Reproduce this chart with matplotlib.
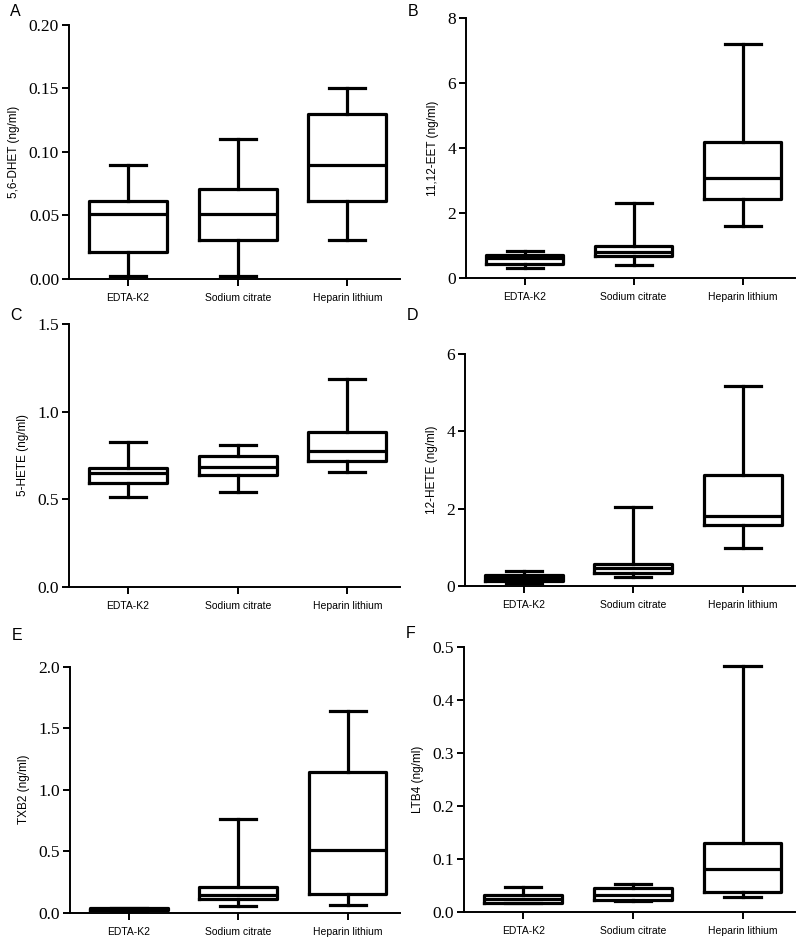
import matplotlib
matplotlib.use("Agg")
import matplotlib.pyplot as plt

groups = ["EDTA-K2", "Sodium citrate", "Heparin lithium"]

# whisker low, Q1, median, Q3, whisker high for each group
dhet56 = [[0.002, 0.021, 0.051, 0.061, 0.090],
          [0.002, 0.031, 0.051, 0.071, 0.110],
          [0.031, 0.061, 0.090, 0.130, 0.150]]
eet1112 = [[0.30, 0.42, 0.60, 0.72, 0.82],
           [0.39, 0.67, 0.80, 0.97, 2.30],
           [1.59, 2.44, 3.08, 4.17, 7.20]]
hete5 = [[0.514, 0.590, 0.647, 0.681, 0.828],
         [0.541, 0.638, 0.685, 0.746, 0.809],
         [0.657, 0.718, 0.777, 0.881, 1.184]]
hete12 = [[0.08, 0.13, 0.20, 0.28, 0.38],
          [0.22, 0.33, 0.47, 0.56, 2.04],
          [0.99, 1.58, 1.80, 2.87, 5.18]]
txb2 = [[0.015, 0.020, 0.030, 0.035, 0.040],
        [0.054, 0.108, 0.145, 0.209, 0.759],
        [0.060, 0.154, 0.507, 1.146, 1.640]]
ltb4 = [[0.016, 0.017, 0.024, 0.031, 0.047],
        [0.020, 0.022, 0.032, 0.044, 0.052],
        [0.027, 0.038, 0.080, 0.130, 0.464]]

panels = [
    ("A", "5,6-DHET (ng/ml)", dhet56, (0, 0.20), [0, 0.05, 0.10, 0.15, 0.20], "{:.2f}",
     [0.086, 0.703, 0.414, 0.2705]),
    ("B", "11,12-EET (ng/ml)", eet1112, (0, 8), [0, 2, 4, 6, 8], "{:.0f}",
     [0.5825, 0.704, 0.411, 0.277]),
    ("C", "5-HETE (ng/ml)", hete5, (0, 1.5), [0, 0.5, 1.0, 1.5], "{:.1f}",
     [0.086, 0.375, 0.414, 0.280]),
    ("D", "12-HETE (ng/ml)", hete12, (0, 6), [0, 2, 4, 6], "{:.0f}",
     [0.581, 0.376, 0.413, 0.247]),
    ("E", "TXB2 (ng/ml)", txb2, (0, 2.0), [0, 0.5, 1.0, 1.5, 2.0], "{:.1f}",
     [0.0875, 0.028, 0.4125, 0.262]),
    ("F", "LTB4 (ng/ml)", ltb4, (0, 0.5), [0, 0.1, 0.2, 0.3, 0.4, 0.5], "{:.1f}",
     [0.580, 0.029, 0.414, 0.282]),
]

# y position (px from top) of each panel letter
letter_y = {"A": 12, "B": 12, "C": 315, "D": 315, "E": 636, "F": 634}

fig = plt.figure(figsize=(8, 9.39), dpi=100)

lw = 2.3
for letter, ylab, data, ylim, yticks, fmt, rect in panels:
    ax = fig.add_axes(rect)
    stats = []
    for g, (lo, q1, med, q3, hi) in zip(groups, data):
        stats.append({"label": g, "whislo": lo, "q1": q1, "med": med,
                      "q3": q3, "whishi": hi, "fliers": []})
    ax.bxp(stats, positions=[1, 2, 3], widths=0.71, showfliers=False,
           boxprops=dict(color="black", linewidth=lw),
           medianprops=dict(color="black", linewidth=lw),
           whiskerprops=dict(color="black", linewidth=lw),
           capprops=dict(color="black", linewidth=lw),
           capwidths=0.33)
    ax.set_xlim(0.46, 3.48)
    ax.set_ylim(*ylim)
    ax.set_yticks(yticks)
    ax.set_yticklabels([fmt.format(v) for v in yticks],
                       family="Liberation Serif", fontsize=12.5)
    ax.set_xticks([1, 2, 3])
    ax.set_xticklabels(groups, family="Liberation Sans", fontsize=7.5)
    ax.set_ylabel(ylab, family="Liberation Sans", fontsize=8.5, labelpad=6)
    for s in ["top", "right"]:
        ax.spines[s].set_visible(False)
    for s in ["left", "bottom"]:
        ax.spines[s].set_linewidth(1.4)
    ax.tick_params(axis="both", direction="out", width=1.4, length=5)
    ax.tick_params(axis="x", pad=5)
    ax.tick_params(axis="y", pad=2)
    x0 = rect[0] - 0.073
    y0 = 1 - letter_y[letter] / 939
    ax.text(x0, y0, letter, transform=fig.transFigure,
            family="Liberation Sans", fontsize=11.5, va="center", ha="left")

fig.savefig("out.png", dpi=100)
